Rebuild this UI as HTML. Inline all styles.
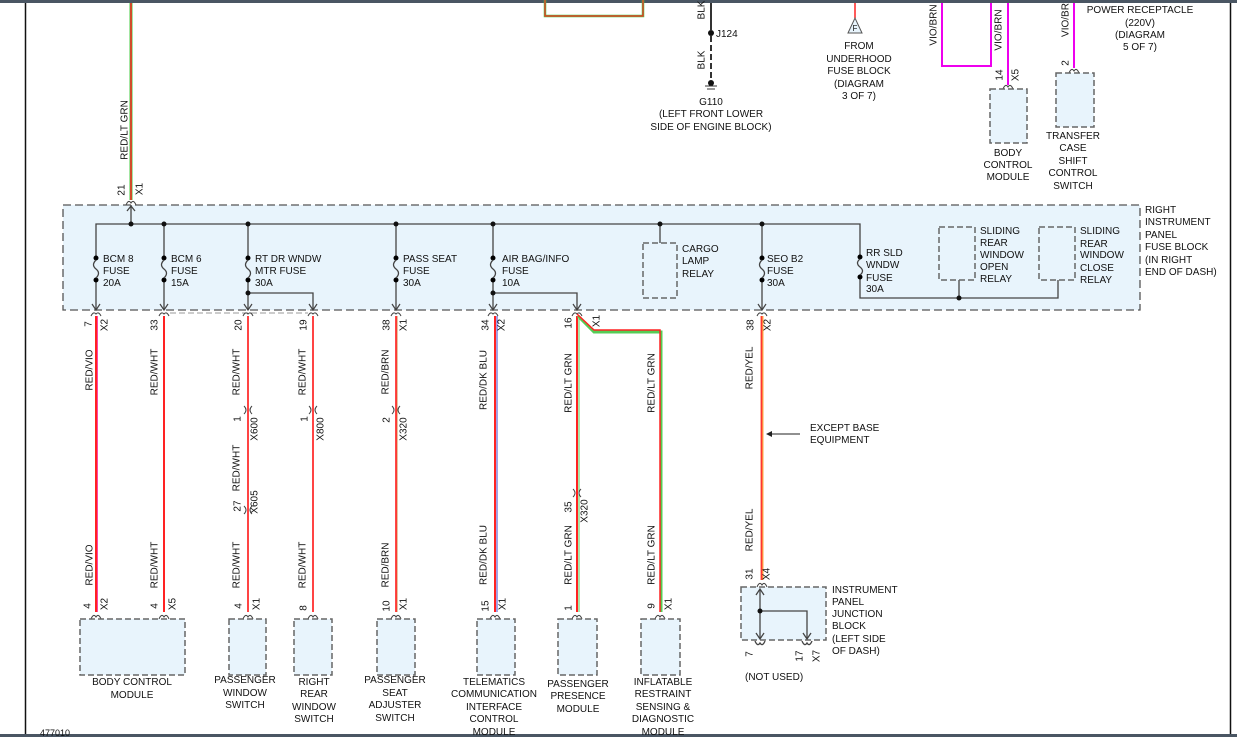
<!DOCTYPE html>
<html><head><meta charset="utf-8"><style>
html,body{margin:0;padding:0;background:#fff;}
svg{display:block;font-family:"Liberation Sans",Arial,sans-serif;font-size:10px;}
text{fill:#111;}
</style></head><body>
<svg width="1237" height="737" viewBox="0 0 1237 737" xmlns="http://www.w3.org/2000/svg">
<rect x="0" y="0" width="1237" height="3" fill="#4a5663"/>
<rect x="0" y="734" width="1237" height="3" fill="#4a5663"/>
<line x1="25.5" y1="3" x2="25.5" y2="734" stroke="#111" stroke-width="1.5"/>
<line x1="1230.5" y1="3" x2="1230.5" y2="734" stroke="#111" stroke-width="1.5"/>

<!-- top area -->
<path d="M545 0 V16 H643 V0" fill="none" stroke="#4c4" stroke-width="2.5"/>
<path d="M545 0 V16 H643 V0" fill="none" stroke="#f22" stroke-width="1.2"/>
<line x1="131" y1="3" x2="131" y2="200" stroke="#4c4" stroke-width="3"/>
<line x1="131" y1="3" x2="131" y2="200" stroke="#f22" stroke-width="1.5"/>
<text transform="rotate(-90 125 130)" x="125" y="130" text-anchor="middle" dominant-baseline="middle">RED/LT GRN</text>
<text transform="rotate(-90 122 190)" x="122" y="190" text-anchor="middle" dominant-baseline="middle">21</text>
<text transform="rotate(-90 140 189)" x="140" y="189" text-anchor="middle" dominant-baseline="middle">X1</text>
<path d="M126 205 Q128.5 199 131 203 Q133.5 199 136 205" fill="none" stroke="#444"/>

<line x1="711" y1="3" x2="711" y2="30" stroke="#333" stroke-width="2"/>
<circle cx="711" cy="33" r="3" fill="#111"/>
<line x1="711" y1="36" x2="711" y2="80" stroke="#333" stroke-width="2" stroke-dasharray="6,3"/>
<circle cx="711" cy="83" r="3" fill="#111"/>
<line x1="705" y1="86" x2="717" y2="86" stroke="#333"/><line x1="707" y1="89" x2="715" y2="89" stroke="#333"/>
<text transform="rotate(-90 702 10)" x="702" y="10" text-anchor="middle" dominant-baseline="middle">BLK</text>
<text transform="rotate(-90 702 60)" x="702" y="60" text-anchor="middle" dominant-baseline="middle">BLK</text>
<text x="716" y="37">J124</text>
<g text-anchor="middle"><text x="711" y="105">G110</text><text x="711" y="117">(LEFT FRONT LOWER</text><text x="711" y="130">SIDE OF ENGINE BLOCK)</text></g>

<line x1="855" y1="3" x2="855" y2="18" stroke="#f22" stroke-width="1.5"/>
<path d="M848 33 L855 18 L862 33 Z" fill="#e8f4fc" stroke="#555"/>
<text x="855" y="31" text-anchor="middle" font-size="8">F</text>
<g text-anchor="middle"><text x="859" y="49">FROM</text><text x="859" y="62">UNDERHOOD</text><text x="859" y="74">FUSE BLOCK</text><text x="859" y="87">(DIAGRAM</text><text x="859" y="99">3 OF 7)</text></g>

<path d="M942 3 V66 H991 V3" fill="none" stroke="#e0e" stroke-width="2"/>
<line x1="1008" y1="3" x2="1008" y2="85" stroke="#e0e" stroke-width="2"/>
<line x1="1074" y1="3" x2="1074" y2="68" stroke="#e0e" stroke-width="2"/>
<text transform="rotate(-90 934 25)" x="934" y="25" text-anchor="middle" dominant-baseline="middle">VIO/BRN</text>
<text transform="rotate(-90 999 30)" x="999" y="30" text-anchor="middle" dominant-baseline="middle">VIO/BRN</text>
<text transform="rotate(-90 1066 20)" x="1066" y="20" text-anchor="middle" dominant-baseline="middle">VIO/BR</text>
<g text-anchor="middle"><text x="1140" y="13">POWER RECEPTACLE</text><text x="1140" y="26">(220V)</text><text x="1140" y="38">(DIAGRAM</text><text x="1140" y="50">5 OF 7)</text></g>
<text transform="rotate(-90 1000 75)" x="1000" y="75" text-anchor="middle" dominant-baseline="middle">14</text>
<text transform="rotate(-90 1016 75)" x="1016" y="75" text-anchor="middle" dominant-baseline="middle">X5</text>
<path d="M1003 89 Q1005.5 83 1008 87 Q1010.5 83 1013 89" fill="none" stroke="#444"/>
<rect x="990" y="89" width="37" height="54" fill="#e8f4fc" stroke="#666" stroke-dasharray="6,3" stroke-width="1.5"/>
<g text-anchor="middle"><text x="1008" y="156">BODY</text><text x="1008" y="168">CONTROL</text><text x="1008" y="180">MODULE</text></g>
<text transform="rotate(-90 1066 63)" x="1066" y="63" text-anchor="middle" dominant-baseline="middle">2</text>
<path d="M1069 73 Q1071.5 67 1074 71 Q1076.5 67 1079 73" fill="none" stroke="#444"/>
<rect x="1056" y="73" width="38" height="54" fill="#e8f4fc" stroke="#666" stroke-dasharray="6,3" stroke-width="1.5"/>
<g text-anchor="middle"><text x="1073" y="139">TRANSFER</text><text x="1073" y="151">CASE</text><text x="1073" y="164">SHIFT</text><text x="1073" y="176">CONTROL</text><text x="1073" y="189">SWITCH</text></g>

<!-- fuse block -->
<rect x="63" y="205" width="1077" height="105" fill="#e8f4fc" stroke="#555" stroke-dasharray="8,4" stroke-width="1.3"/>
<g stroke="#444" stroke-width="1.3" fill="none">
<path d="M96 310 V224 H660 M660 224 H860 V298 H1058 V280"/>
<line x1="131" y1="205" x2="131" y2="224"/><path d="M127 211 L131 206 L135 211"/>
<line x1="164" y1="224" x2="164" y2="310"/>
<line x1="248" y1="224" x2="248" y2="310"/>
<path d="M248 293 H313 V310"/>
<line x1="396" y1="224" x2="396" y2="310"/>
<line x1="493" y1="224" x2="493" y2="310"/>
<path d="M493 293 H577 V310"/>
<line x1="660" y1="224" x2="660" y2="243"/>
<line x1="762" y1="224" x2="762" y2="310"/>
<line x1="959" y1="280" x2="959" y2="298"/>
</g>
<g fill="#111">
<circle cx="131" cy="224" r="2.5"/><circle cx="164" cy="224" r="2.5"/><circle cx="248" cy="224" r="2.5"/><circle cx="396" cy="224" r="2.5"/><circle cx="493" cy="224" r="2.5"/><circle cx="660" cy="224" r="2.5"/><circle cx="762" cy="224" r="2.5"/>
<circle cx="248" cy="293" r="2.5"/><circle cx="493" cy="293" r="2.5"/><circle cx="959" cy="298" r="2.5"/>
</g>
<!-- fuses -->
<g>
<rect x="92" y="258" width="8" height="22" fill="#e8f4fc"/><circle cx="96" cy="258" r="2.5"/><circle cx="96" cy="280" r="2.5"/><path d="M96 260 Q91 265 96 269 Q101 273 96 278" fill="none" stroke="#444" stroke-width="1.3"/>
<rect x="160" y="258" width="8" height="22" fill="#e8f4fc"/><circle cx="164" cy="258" r="2.5"/><circle cx="164" cy="280" r="2.5"/><path d="M164 260 Q159 265 164 269 Q169 273 164 278" fill="none" stroke="#444" stroke-width="1.3"/>
<rect x="244" y="258" width="8" height="22" fill="#e8f4fc"/><circle cx="248" cy="258" r="2.5"/><circle cx="248" cy="280" r="2.5"/><path d="M248 260 Q243 265 248 269 Q253 273 248 278" fill="none" stroke="#444" stroke-width="1.3"/>
<rect x="392" y="258" width="8" height="22" fill="#e8f4fc"/><circle cx="396" cy="258" r="2.5"/><circle cx="396" cy="280" r="2.5"/><path d="M396 260 Q391 265 396 269 Q401 273 396 278" fill="none" stroke="#444" stroke-width="1.3"/>
<rect x="489" y="258" width="8" height="22" fill="#e8f4fc"/><circle cx="493" cy="258" r="2.5"/><circle cx="493" cy="280" r="2.5"/><path d="M493 260 Q488 265 493 269 Q498 273 493 278" fill="none" stroke="#444" stroke-width="1.3"/>
<rect x="758" y="258" width="8" height="22" fill="#e8f4fc"/><circle cx="762" cy="258" r="2.5"/><circle cx="762" cy="280" r="2.5"/><path d="M762 260 Q757 265 762 269 Q767 273 762 278" fill="none" stroke="#444" stroke-width="1.3"/>
<rect x="856" y="257" width="8" height="20" fill="#e8f4fc"/><circle cx="860" cy="257" r="2.5"/><circle cx="860" cy="277" r="2.5"/><path d="M860 259 Q855 263 860 267 Q865 271 860 275" fill="none" stroke="#444" stroke-width="1.3"/>
</g>
<g fill="none" stroke="#444" stroke-width="1.2">
<path d="M92 304 L96 310 L100 304"/><path d="M160 304 L164 310 L168 304"/><path d="M244 304 L248 310 L252 304"/><path d="M309 304 L313 310 L317 304"/><path d="M392 304 L396 310 L400 304"/><path d="M489 304 L493 310 L497 304"/><path d="M573 304 L577 310 L581 304"/><path d="M758 304 L762 310 L766 304"/>
</g>
<rect x="643" y="243" width="34" height="55" fill="#e8f4fc" stroke="#666" stroke-dasharray="6,3" stroke-width="1.5"/>
<rect x="939" y="227" width="36" height="53" fill="#e8f4fc" stroke="#666" stroke-dasharray="6,3" stroke-width="1.5"/>
<rect x="1039" y="227" width="36" height="53" fill="#e8f4fc" stroke="#666" stroke-dasharray="6,3" stroke-width="1.5"/>
<text x="103" y="262">BCM 8</text><text x="103" y="274">FUSE</text><text x="103" y="286">20A</text>
<text x="171" y="262">BCM 6</text><text x="171" y="274">FUSE</text><text x="171" y="286">15A</text>
<text x="255" y="262">RT DR WNDW</text><text x="255" y="274">MTR FUSE</text><text x="255" y="286">30A</text>
<text x="403" y="262">PASS SEAT</text><text x="403" y="274">FUSE</text><text x="403" y="286">30A</text>
<text x="502" y="262">AIR BAG/INFO</text><text x="502" y="274">FUSE</text><text x="502" y="286">10A</text>
<text x="682" y="252">CARGO</text><text x="682" y="264">LAMP</text><text x="682" y="277">RELAY</text>
<text x="767" y="262">SEO B2</text><text x="767" y="274">FUSE</text><text x="767" y="286">30A</text>
<text x="866" y="256">RR SLD</text><text x="866" y="268">WNDW</text><text x="866" y="281">FUSE</text><text x="866" y="292">30A</text>
<text x="980" y="234">SLIDING</text><text x="980" y="246">REAR</text><text x="980" y="258">WINDOW</text><text x="980" y="270">OPEN</text><text x="980" y="282">RELAY</text>
<text x="1080" y="234">SLIDING</text><text x="1080" y="247">REAR</text><text x="1080" y="258">WINDOW</text><text x="1080" y="271">CLOSE</text><text x="1080" y="283">RELAY</text>
<text x="1145" y="213">RIGHT</text><text x="1145" y="225">INSTRUMENT</text><text x="1145" y="238">PANEL</text><text x="1145" y="250">FUSE BLOCK</text><text x="1145" y="263">(IN RIGHT</text><text x="1145" y="275">END OF DASH)</text>

<line x1="170" y1="313" x2="308" y2="313" stroke="#999" stroke-dasharray="6,3"/>
<g fill="none" stroke="#444">
<path d="M91 316 Q93.5 311 96 314 Q98.5 311 101 316"/><path d="M159 316 Q161.5 311 164 314 Q166.5 311 169 316"/><path d="M243 316 Q245.5 311 248 314 Q250.5 311 253 316"/><path d="M308 316 Q310.5 311 313 314 Q315.5 311 318 316"/><path d="M391 316 Q393.5 311 396 314 Q398.5 311 401 316"/><path d="M488 316 Q490.5 311 493 314 Q495.5 311 498 316"/><path d="M572 316 Q574.5 311 577 314 Q579.5 311 582 316"/><path d="M757 316 Q759.5 311 762 314 Q764.5 311 767 316"/>
</g>

<!-- wires -->
<g fill="none">
<line x1="97.5" y1="316" x2="97.5" y2="612" stroke="#f4a" stroke-width="1"/>
<line x1="96" y1="316" x2="96" y2="612" stroke="#f22" stroke-width="2"/>
<line x1="164" y1="316" x2="164" y2="612" stroke="#f22" stroke-width="2"/>
<line x1="248" y1="316" x2="248" y2="612" stroke="#f44" stroke-width="2"/>
<line x1="313" y1="316" x2="313" y2="612" stroke="#f44" stroke-width="2"/>
<line x1="397" y1="316" x2="397" y2="612" stroke="#c84" stroke-width="1"/>
<line x1="396" y1="316" x2="396" y2="612" stroke="#f33" stroke-width="1.8"/>
<line x1="497" y1="316" x2="497" y2="612" stroke="#44c" stroke-width="1"/>
<line x1="495" y1="316" x2="495" y2="612" stroke="#f22" stroke-width="2"/>
<line x1="579" y1="316" x2="579" y2="612" stroke="#5c5" stroke-width="1"/>
<line x1="577" y1="316" x2="577" y2="612" stroke="#f22" stroke-width="2"/>
<path d="M578 316 L594 332 H661 V612" stroke="#5c5" stroke-width="3"/>
<path d="M577 314 L594 330 H660 V612" stroke="#f22" stroke-width="1.5"/>
<line x1="762" y1="316" x2="762" y2="580" stroke="#fa4" stroke-width="3"/>
<line x1="761.5" y1="316" x2="761.5" y2="580" stroke="#f33" stroke-width="1.6"/>
</g>
<g fill="none" stroke="#444">
<path d="M244 406 Q248 410 244 414 M252 406 Q248 410 252 414"/>
<path d="M309 406 Q313 410 309 414 M317 406 Q313 410 317 414"/>
<path d="M392 406 Q396 410 392 414 M400 406 Q396 410 400 414"/>
<path d="M244 506 Q248 510 244 514 M252 506 Q248 510 252 514"/>
<path d="M573 489 Q577 493 573 497 M581 489 Q577 493 581 497"/>
</g>
<line x1="800" y1="434" x2="770" y2="434" stroke="#222"/><path d="M766 434 L772 431 L772 437 Z" fill="#222"/>
<text x="810" y="431">EXCEPT BASE</text><text x="810" y="443">EQUIPMENT</text>

<g text-anchor="middle" dominant-baseline="middle">
<text transform="rotate(-90 90 370)" x="90" y="370">RED/VIO</text>
<text transform="rotate(-90 155 372)" x="155" y="372">RED/WHT</text>
<text transform="rotate(-90 237 372)" x="237" y="372">RED/WHT</text>
<text transform="rotate(-90 303 372)" x="303" y="372">RED/WHT</text>
<text transform="rotate(-90 386 372)" x="386" y="372">RED/BRN</text>
<text transform="rotate(-90 484 380)" x="484" y="380">RED/DK BLU</text>
<text transform="rotate(-90 569 383)" x="569" y="383">RED/LT GRN</text>
<text transform="rotate(-90 652 383)" x="652" y="383">RED/LT GRN</text>
<text transform="rotate(-90 750 368)" x="750" y="368">RED/YEL</text>
<text transform="rotate(-90 237 468)" x="237" y="468">RED/WHT</text>
<text transform="rotate(-90 90 565)" x="90" y="565">RED/VIO</text>
<text transform="rotate(-90 155 565)" x="155" y="565">RED/WHT</text>
<text transform="rotate(-90 237 565)" x="237" y="565">RED/WHT</text>
<text transform="rotate(-90 303 565)" x="303" y="565">RED/WHT</text>
<text transform="rotate(-90 386 565)" x="386" y="565">RED/BRN</text>
<text transform="rotate(-90 484 555)" x="484" y="555">RED/DK BLU</text>
<text transform="rotate(-90 569 555)" x="569" y="555">RED/LT GRN</text>
<text transform="rotate(-90 652 555)" x="652" y="555">RED/LT GRN</text>
<text transform="rotate(-90 750 530)" x="750" y="530">RED/YEL</text>
<text transform="rotate(-90 89 324)" x="89" y="324">7</text><text transform="rotate(-90 105 325)" x="105" y="325">X2</text>
<text transform="rotate(-90 155 325)" x="155" y="325">33</text>
<text transform="rotate(-90 239 325)" x="239" y="325">20</text>
<text transform="rotate(-90 304 325)" x="304" y="325">19</text>
<text transform="rotate(-90 387 325)" x="387" y="325">38</text><text transform="rotate(-90 404 325)" x="404" y="325">X1</text>
<text transform="rotate(-90 486 325)" x="486" y="325">34</text><text transform="rotate(-90 502 325)" x="502" y="325">X2</text>
<text transform="rotate(-90 569 323)" x="569" y="323">16</text><text transform="rotate(-90 597 321)" x="597" y="321">X1</text>
<text transform="rotate(-90 751 325)" x="751" y="325">38</text><text transform="rotate(-90 768 325)" x="768" y="325">X2</text>
<text transform="rotate(-90 238 419)" x="238" y="419">1</text><text transform="rotate(-90 255 429)" x="255" y="429">X600</text>
<text transform="rotate(-90 305 419)" x="305" y="419">1</text><text transform="rotate(-90 321 429)" x="321" y="429">X800</text>
<text transform="rotate(-90 387 420)" x="387" y="420">2</text><text transform="rotate(-90 404 429)" x="404" y="429">X320</text>
<text transform="rotate(-90 238 506)" x="238" y="506">27</text><text transform="rotate(-90 255 502)" x="255" y="502">X605</text>
<text transform="rotate(-90 569 507)" x="569" y="507">35</text><text transform="rotate(-90 585 511)" x="585" y="511">X320</text>
<text transform="rotate(-90 88 606)" x="88" y="606">4</text><text transform="rotate(-90 105 604)" x="105" y="604">X2</text>
<text transform="rotate(-90 155 606)" x="155" y="606">4</text><text transform="rotate(-90 173 604)" x="173" y="604">X5</text>
<text transform="rotate(-90 239 606)" x="239" y="606">4</text><text transform="rotate(-90 257 604)" x="257" y="604">X1</text>
<text transform="rotate(-90 304 608)" x="304" y="608">8</text>
<text transform="rotate(-90 387 606)" x="387" y="606">10</text><text transform="rotate(-90 404 604)" x="404" y="604">X1</text>
<text transform="rotate(-90 486 606)" x="486" y="606">15</text><text transform="rotate(-90 503 604)" x="503" y="604">X1</text>
<text transform="rotate(-90 569 608)" x="569" y="608">1</text>
<text transform="rotate(-90 652 606)" x="652" y="606">9</text><text transform="rotate(-90 669 604)" x="669" y="604">X1</text>
<text transform="rotate(-90 750 574)" x="750" y="574">31</text><text transform="rotate(-90 767 574)" x="767" y="574">X4</text>
<text transform="rotate(-90 750 654)" x="750" y="654">7</text>
<text transform="rotate(-90 800 656)" x="800" y="656">17</text><text transform="rotate(-90 817 656)" x="817" y="656">X7</text>
</g>
<g fill="none" stroke="#444">
<path d="M91 619 Q93.5 613 96 617 Q98.5 613 101 619"/><path d="M159 619 Q161.5 613 164 617 Q166.5 613 169 619"/><path d="M243 619 Q245.5 613 248 617 Q250.5 613 253 619"/><path d="M308 619 Q310.5 613 313 617 Q315.5 613 318 619"/><path d="M391 619 Q393.5 613 396 617 Q398.5 613 401 619"/><path d="M490 619 Q492.5 613 495 617 Q497.5 613 500 619"/><path d="M572 619 Q574.5 613 577 617 Q579.5 613 582 619"/><path d="M655 619 Q657.5 613 660 617 Q662.5 613 665 619"/>
<path d="M757 587 Q759.5 581 762 585 Q764.5 581 767 587"/>
</g>
<g fill="#e8f4fc" stroke="#666" stroke-dasharray="6,3" stroke-width="1.5">
<rect x="80" y="619" width="105" height="56"/>
<rect x="229" y="619" width="37" height="56"/>
<rect x="294" y="619" width="38" height="56"/>
<rect x="377" y="619" width="38" height="56"/>
<rect x="477" y="619" width="38" height="56"/>
<rect x="558" y="619" width="39" height="56"/>
<rect x="641" y="619" width="39" height="56"/>
<rect x="741" y="587" width="85" height="53"/>
</g>
<g fill="none" stroke="#444" stroke-width="1.3">
<path d="M760 590 V639 M760 611 H807 V639"/>
<path d="M756 595 L760 589 L764 595"/><path d="M756 633 L760 639 L764 633"/><path d="M803 633 L807 639 L811 633"/>
<path d="M755 641 Q757.5 647 760 643 Q762.5 647 765 641"/><path d="M802 641 Q804.5 647 807 643 Q809.5 647 812 641"/>
</g>
<circle cx="760" cy="611" r="2.5" fill="#111"/>
<text x="832" y="593">INSTRUMENT</text><text x="832" y="605">PANEL</text><text x="832" y="617">JUNCTION</text><text x="832" y="629">BLOCK</text><text x="832" y="642">(LEFT SIDE</text><text x="832" y="654">OF DASH)</text>
<text x="745" y="680">(NOT USED)</text>
<g text-anchor="middle">
<text x="132" y="685">BODY CONTROL</text><text x="132" y="698">MODULE</text>
<text x="245" y="683">PASSENGER</text><text x="245" y="696">WINDOW</text><text x="245" y="708">SWITCH</text>
<text x="314" y="685">RIGHT</text><text x="314" y="697">REAR</text><text x="314" y="710">WINDOW</text><text x="314" y="722">SWITCH</text>
<text x="395" y="683">PASSENGER</text><text x="395" y="696">SEAT</text><text x="395" y="708">ADJUSTER</text><text x="395" y="721">SWITCH</text>
<text x="494" y="685">TELEMATICS</text><text x="494" y="697">COMMUNICATION</text><text x="494" y="710">INTERFACE</text><text x="494" y="722">CONTROL</text><text x="494" y="735">MODULE</text>
<text x="578" y="687">PASSENGER</text><text x="578" y="699">PRESENCE</text><text x="578" y="712">MODULE</text>
<text x="663" y="685">INFLATABLE</text><text x="663" y="697">RESTRAINT</text><text x="663" y="710">SENSING &amp;</text><text x="663" y="722">DIAGNOSTIC</text><text x="663" y="735">MODULE</text>
</g>
<text x="40" y="736" font-size="9">477010</text>
</svg>
</body></html>
